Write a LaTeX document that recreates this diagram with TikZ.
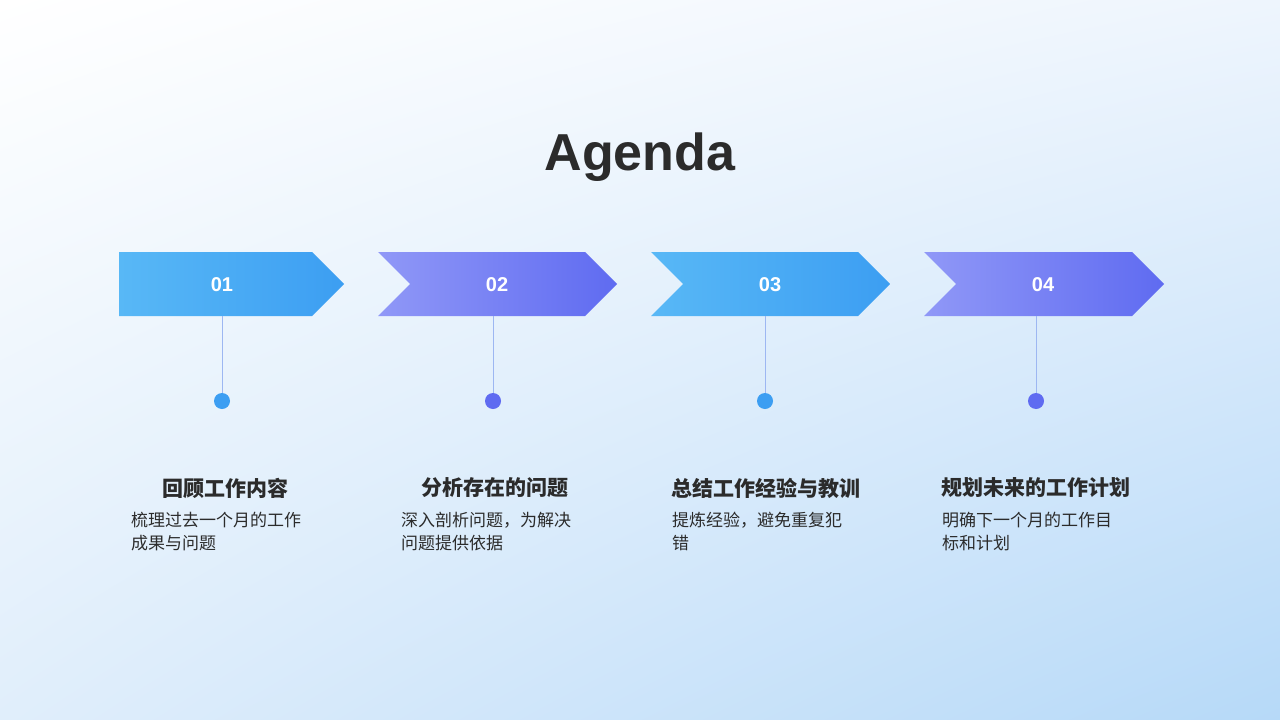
\documentclass[tikz,border=0pt]{standalone}
\usepackage{fontspec}
\usetikzlibrary{shadings}
\setmainfont{Liberation Sans}
\newfontfamily\cjk{Noto Sans CJK SC}
\definecolor{bgA}{HTML}{FFFFFF}
\definecolor{bgB}{HTML}{B6D9F8}
\definecolor{bgC}{HTML}{EEF5FD}
\definecolor{bgD}{HTML}{E0EEFB}
\definecolor{blA}{HTML}{58B8F6}
\definecolor{blB}{HTML}{3C9EF2}
\definecolor{puA}{HTML}{9098F7}
\definecolor{puB}{HTML}{5F6BF1}
\definecolor{txt}{HTML}{2B2B2B}
\definecolor{stemc}{HTML}{9DB7F2}
\begin{document}
\begin{tikzpicture}[x=1pt,y=-1pt,
  num/.style={text=white,font=\bfseries\fontsize{20}{24}\selectfont},
  ttl/.style={text=txt,font=\cjk\bfseries\fontsize{21}{25}\selectfont},
  dsc/.style={text=txt,font=\cjk\fontsize{17}{23}\selectfont,align=left,anchor=north west,inner sep=0pt,text width=195pt},
  stem/.style={draw=stemc,line width=0.9pt}]
\useasboundingbox (0,0) rectangle (1280,720);
\shade[upper left=bgA,upper right=bgC,lower left=bgD,lower right=bgB] (0,0) rectangle (1280,720);
\node[text=txt,font=\bfseries\fontsize{52}{60}\selectfont] (title) at (640,157) {Agenda};
% arrows
\shade[left color=blA,right color=blB] (119,252) -- (312,252) -- (344,284) -- (312,316) -- (119,316) -- cycle;
\shade[left color=puA,right color=puB] (378,252) -- (585,252) -- (617,284) -- (585,316) -- (378,316) -- (410,284) -- cycle;
\shade[left color=blA,right color=blB] (651,252) -- (858,252) -- (890,284) -- (858,316) -- (651,316) -- (683,284) -- cycle;
\shade[left color=puA,right color=puB] (924,252) -- (1132,252) -- (1164,284) -- (1132,316) -- (924,316) -- (956,284) -- cycle;
\node[num] (n1) at (222,285) {01};
\node[num] (n2) at (497,285) {02};
\node[num] (n3) at (770,285) {03};
\node[num] (n4) at (1043,285) {04};
% stems and dots
\coordinate (t1) at (222,316); \coordinate (t2) at (493,316);
\coordinate (t3) at (765,316); \coordinate (t4) at (1036,316);
\node[circle,fill=blB,minimum size=16pt,inner sep=0pt] (d1) at (222,401) {};
\node[circle,fill=puB,minimum size=16pt,inner sep=0pt] (d2) at (493,401) {};
\node[circle,fill=blB,minimum size=16pt,inner sep=0pt] (d3) at (765,401) {};
\node[circle,fill=puB,minimum size=16pt,inner sep=0pt] (d4) at (1036,401) {};
\draw[stem] (t1) -- (d1); \draw[stem] (t2) -- (d2);
\draw[stem] (t3) -- (d3); \draw[stem] (t4) -- (d4);
% titles
\node[ttl] (h1) at (225,488) {回顾工作内容};
\node[ttl] (h2) at (495,488) {分析存在的问题};
\node[ttl] (h3) at (766,488) {总结工作经验与教训};
\node[ttl] (h4) at (1036,488) {规划未来的工作计划};
\node[dsc] (p1) at (131,512) {梳理过去一个月的工作\\成果与问题};
\node[dsc] (p2) at (401,512) {深入剖析问题，为解决\\问题提供依据};
\node[dsc] (p3) at (672,512) {提炼经验，避免重复犯\\错};
\node[dsc] (p4) at (942,512) {明确下一个月的工作目\\标和计划};
\end{tikzpicture}
\end{document}
